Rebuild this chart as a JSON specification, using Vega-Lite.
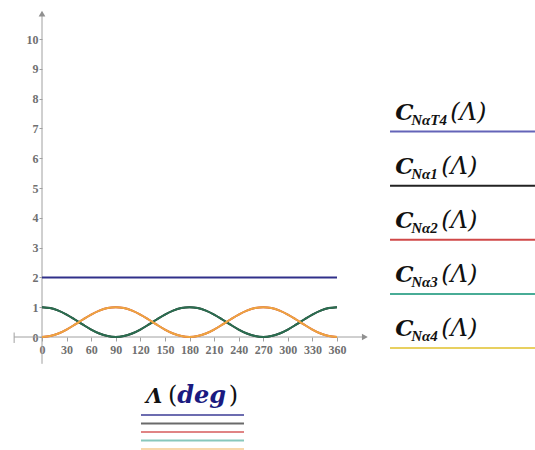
{
  "$schema": "https://vega.github.io/schema/vega-lite/v6.json",
  "width": 295,
  "height": 298,
  "autosize": {"type": "none"},
  "padding": {"left": 42, "top": 39, "right": 198, "bottom": 113},
  "background": "white",
  "config": {
    "view": {"stroke": null},
    "axis": {"labelFont": "Liberation Serif", "labelFontSize": 12, "labelFontWeight": "bold", "labelColor": "#707070", "tickColor": "#a0a0a0", "domain": false, "grid": false, "labelOverlap": false, "labelFlush": false, "title": null}
  },
  "datasets": {
    "one": [{}],
    "curve": [
      {"L": 0, "c": 1, "s": 0},
      {"L": 10, "c": 0.9698, "s": 0.0302},
      {"L": 20, "c": 0.883, "s": 0.117},
      {"L": 30, "c": 0.75, "s": 0.25},
      {"L": 40, "c": 0.5868, "s": 0.4132},
      {"L": 50, "c": 0.4132, "s": 0.5868},
      {"L": 60, "c": 0.25, "s": 0.75},
      {"L": 70, "c": 0.117, "s": 0.883},
      {"L": 80, "c": 0.0302, "s": 0.9698},
      {"L": 90, "c": 0, "s": 1},
      {"L": 100, "c": 0.0302, "s": 0.9698},
      {"L": 110, "c": 0.117, "s": 0.883},
      {"L": 120, "c": 0.25, "s": 0.75},
      {"L": 130, "c": 0.4132, "s": 0.5868},
      {"L": 140, "c": 0.5868, "s": 0.4132},
      {"L": 150, "c": 0.75, "s": 0.25},
      {"L": 160, "c": 0.883, "s": 0.117},
      {"L": 170, "c": 0.9698, "s": 0.0302},
      {"L": 180, "c": 1, "s": 0},
      {"L": 190, "c": 0.9698, "s": 0.0302},
      {"L": 200, "c": 0.883, "s": 0.117},
      {"L": 210, "c": 0.75, "s": 0.25},
      {"L": 220, "c": 0.5868, "s": 0.4132},
      {"L": 230, "c": 0.4132, "s": 0.5868},
      {"L": 240, "c": 0.25, "s": 0.75},
      {"L": 250, "c": 0.117, "s": 0.883},
      {"L": 260, "c": 0.0302, "s": 0.9698},
      {"L": 270, "c": 0, "s": 1},
      {"L": 280, "c": 0.0302, "s": 0.9698},
      {"L": 290, "c": 0.117, "s": 0.883},
      {"L": 300, "c": 0.25, "s": 0.75},
      {"L": 310, "c": 0.4132, "s": 0.5868},
      {"L": 320, "c": 0.5868, "s": 0.4132},
      {"L": 330, "c": 0.75, "s": 0.25},
      {"L": 340, "c": 0.883, "s": 0.117},
      {"L": 350, "c": 0.9698, "s": 0.0302},
      {"L": 360, "c": 1, "s": 0}
    ],
    "leg": [
      {"k": 0, "sub": "NαT4"},
      {"k": 1, "sub": "Nα1"},
      {"k": 2, "sub": "Nα2"},
      {"k": 3, "sub": "Nα3"},
      {"k": 4, "sub": "Nα4"}
    ]
  },
  "layer": [
    {
      "data": {"name": "one"},
      "mark": {"type": "rule", "color": "#a0a0a0", "strokeWidth": 1},
      "encoding": {
        "x": {
          "datum": -34, "type": "quantitative",
          "scale": {"domain": [0, 360], "nice": false, "zero": false},
          "axis": {
            "values": [0, 30, 60, 90, 120, 150, 180, 210, 240, 270, 300, 330, 360],
            "domain": false, "grid": false, "title": null,
            "tickColor": "#a0a0a0", "tickSize": 4,
            "labelFont": "Liberation Serif", "labelFontSize": 12, "labelFontWeight": "bold",
            "labelColor": "#707070", "labelPadding": 3, "labelFlush": false, "labelOverlap": false
          }
        },
        "x2": {"datum": 393},
        "y": {
          "datum": 0, "type": "quantitative",
          "scale": {"domain": [0, 10], "nice": false, "zero": false},
          "axis": {
            "values": [0, 1, 2, 3, 4, 5, 6, 7, 8, 9, 10],
            "domain": false, "grid": false, "title": null,
            "tickColor": "#a0a0a0", "tickSize": 3,
            "labelFont": "Liberation Serif", "labelFontSize": 12, "labelFontWeight": "bold",
            "labelColor": "#707070", "labelPadding": 1, "labelFlush": false, "labelOverlap": false
          }
        }
      }
    },
    {
      "data": {"name": "one"},
      "mark": {"type": "rule", "color": "#a0a0a0", "strokeWidth": 1},
      "encoding": {
        "x": {"datum": -34, "type": "quantitative", "scale": {"domain": [0, 360], "nice": false, "zero": false}, "axis": null},
        "y": {"datum": -0.2, "type": "quantitative", "scale": {"domain": [0, 10], "nice": false, "zero": false}, "axis": null},
        "y2": {"datum": 0.15}
      }
    },
    {
      "data": {"name": "one"},
      "mark": {"type": "rule", "color": "#a0a0a0", "strokeWidth": 1},
      "encoding": {
        "x": {"datum": 0, "type": "quantitative", "scale": {"domain": [0, 360], "nice": false, "zero": false}, "axis": null},
        "y": {"datum": -0.9, "type": "quantitative", "scale": {"domain": [0, 10], "nice": false, "zero": false}, "axis": null},
        "y2": {"datum": 10.8}
      }
    },
    {
      "data": {"name": "one"},
      "mark": {"type": "point", "shape": "triangle-right", "filled": true, "color": "#909090", "size": 45, "opacity": 1},
      "encoding": {
        "x": {"datum": 394, "type": "quantitative", "scale": {"domain": [0, 360], "nice": false, "zero": false}, "axis": null},
        "y": {"datum": 0, "type": "quantitative", "scale": {"domain": [0, 10], "nice": false, "zero": false}, "axis": null}
      }
    },
    {
      "data": {"name": "one"},
      "mark": {"type": "point", "shape": "triangle-up", "filled": true, "color": "#909090", "size": 45, "opacity": 1},
      "encoding": {
        "x": {"datum": 0, "type": "quantitative", "scale": {"domain": [0, 360], "nice": false, "zero": false}, "axis": null},
        "y": {"datum": 10.85, "type": "quantitative", "scale": {"domain": [0, 10], "nice": false, "zero": false}, "axis": null}
      }
    },
    {
      "data": {"name": "curve"},
      "mark": {"type": "line", "color": "#222222", "strokeWidth": 2, "interpolate": "monotone"},
      "encoding": {
        "x": {"field": "L", "type": "quantitative", "scale": {"domain": [0, 360], "nice": false, "zero": false}, "axis": null},
        "y": {"field": "c", "type": "quantitative", "scale": {"domain": [0, 10], "nice": false, "zero": false}, "axis": null}
      }
    },
    {
      "data": {"name": "curve"},
      "mark": {"type": "line", "color": "#cc3333", "strokeWidth": 2, "interpolate": "monotone"},
      "encoding": {
        "x": {"field": "L", "type": "quantitative", "scale": {"domain": [0, 360], "nice": false, "zero": false}, "axis": null},
        "y": {"field": "s", "type": "quantitative", "scale": {"domain": [0, 10], "nice": false, "zero": false}, "axis": null}
      }
    },
    {
      "data": {"name": "curve"},
      "mark": {"type": "line", "color": "#2a6e50", "strokeWidth": 2, "interpolate": "monotone"},
      "encoding": {
        "x": {"field": "L", "type": "quantitative", "scale": {"domain": [0, 360], "nice": false, "zero": false}, "axis": null},
        "y": {"field": "c", "type": "quantitative", "scale": {"domain": [0, 10], "nice": false, "zero": false}, "axis": null}
      }
    },
    {
      "data": {"name": "curve"},
      "mark": {"type": "line", "color": "#eea540", "strokeWidth": 2, "interpolate": "monotone"},
      "encoding": {
        "x": {"field": "L", "type": "quantitative", "scale": {"domain": [0, 360], "nice": false, "zero": false}, "axis": null},
        "y": {"field": "s", "type": "quantitative", "scale": {"domain": [0, 10], "nice": false, "zero": false}, "axis": null}
      }
    },
    {
      "data": {"name": "curve"},
      "mark": {"type": "line", "color": "#30308a", "strokeWidth": 2},
      "encoding": {
        "x": {"field": "L", "type": "quantitative", "scale": {"domain": [0, 360], "nice": false, "zero": false}, "axis": null},
        "y": {"datum": 2, "type": "quantitative", "scale": {"domain": [0, 10], "nice": false, "zero": false}, "axis": null}
      }
    },
    {
      "data": {"name": "leg"},
      "mark": {"type": "rule", "strokeWidth": 2},
      "encoding": {
        "x": {"datum": 424.7, "type": "quantitative", "scale": {"domain": [0, 360], "nice": false, "zero": false}, "axis": null},
        "x2": {"datum": 601.6},
        "y": {"field": "k", "type": "quantitative", "scale": {"domain": [0, 4], "range": [92.5, 309]}, "axis": null},
        "color": {"field": "sub", "type": "nominal", "legend": null,
          "scale": {"domain": ["NαT4", "Nα1", "Nα2", "Nα3", "Nα4"], "range": ["#6464b8", "#222222", "#d04848", "#48ac96", "#e8d060"]}}
      }
    },
    {
      "data": {"name": "leg"},
      "mark": {"type": "text", "text": "C", "align": "left", "baseline": "alphabetic", "dy": -12, "font": "DejaVu Serif", "fontStyle": "italic", "fontWeight": "bold", "fontSize": 23, "color": "#111111"},
      "encoding": {
        "x": {"datum": 431, "type": "quantitative", "scale": {"domain": [0, 360], "nice": false, "zero": false}, "axis": null},
        "y": {"field": "k", "type": "quantitative", "scale": {"domain": [0, 4], "range": [92.5, 309]}, "axis": null}
      }
    },
    {
      "data": {"name": "leg"},
      "mark": {"type": "text", "align": "left", "baseline": "alphabetic", "dx": 16, "dy": -7, "font": "Liberation Serif", "fontStyle": "italic", "fontWeight": "bold", "fontSize": 15, "color": "#111111"},
      "encoding": {
        "x": {"datum": 431, "type": "quantitative", "scale": {"domain": [0, 360], "nice": false, "zero": false}, "axis": null},
        "y": {"field": "k", "type": "quantitative", "scale": {"domain": [0, 4], "range": [92.5, 309]}, "axis": null},
        "text": {"field": "sub"}
      }
    },
    {
      "data": {"name": "leg"},
      "transform": [{"filter": "datum.k == 0"}],
      "mark": {"type": "text", "text": "(Λ)", "align": "left", "baseline": "alphabetic", "dx": 55, "dy": -12, "font": "DejaVu Serif", "fontStyle": "italic", "fontSize": 24, "color": "#111111"},
      "encoding": {
        "x": {"datum": 431, "type": "quantitative", "scale": {"domain": [0, 360], "nice": false, "zero": false}, "axis": null},
        "y": {"field": "k", "type": "quantitative", "scale": {"domain": [0, 4], "range": [92.5, 309]}, "axis": null}
      }
    },
    {
      "data": {"name": "leg"},
      "transform": [{"filter": "datum.k > 0"}],
      "mark": {"type": "text", "text": "(Λ)", "align": "left", "baseline": "alphabetic", "dx": 46, "dy": -12, "font": "DejaVu Serif", "fontStyle": "italic", "fontSize": 24, "color": "#111111"},
      "encoding": {
        "x": {"datum": 431, "type": "quantitative", "scale": {"domain": [0, 360], "nice": false, "zero": false}, "axis": null},
        "y": {"field": "k", "type": "quantitative", "scale": {"domain": [0, 4], "range": [92.5, 309]}, "axis": null}
      }
    },
    {
      "data": {"name": "leg"},
      "mark": {"type": "rule", "strokeWidth": 2},
      "encoding": {
        "x": {"datum": 120.8, "type": "quantitative", "scale": {"domain": [0, 360], "nice": false, "zero": false}, "axis": null},
        "x2": {"datum": 246.5},
        "y": {"field": "k", "type": "quantitative", "scale": {"domain": [0, 4], "range": [376, 410]}, "axis": null},
        "color": {"field": "sub", "type": "nominal", "legend": null,
          "scale": {"domain": ["NαT4", "Nα1", "Nα2", "Nα3", "Nα4"], "range": ["#6c6cb0", "#6a6a6a", "#e08484", "#88c8bc", "#f8d8ac"]}}
      }
    },
    {
      "data": {"name": "one"},
      "mark": {"type": "text", "text": "Λ", "align": "left", "baseline": "alphabetic", "dy": -12, "font": "DejaVu Serif", "fontStyle": "italic", "fontWeight": "bold", "fontSize": 21, "color": "#111111"},
      "encoding": {
        "x": {"datum": 126.9, "type": "quantitative", "scale": {"domain": [0, 360], "nice": false, "zero": false}, "axis": null},
        "y": {"datum": 0, "type": "quantitative", "scale": {"domain": [0, 4], "range": [376, 410]}, "axis": null}
      }
    },
    {
      "data": {"name": "one"},
      "mark": {"type": "text", "text": "(", "align": "left", "baseline": "alphabetic", "dy": -12, "font": "DejaVu Serif", "fontSize": 24, "color": "#111111"},
      "encoding": {
        "x": {"datum": 153.8, "type": "quantitative", "scale": {"domain": [0, 360], "nice": false, "zero": false}, "axis": null},
        "y": {"datum": 0, "type": "quantitative", "scale": {"domain": [0, 4], "range": [376, 410]}, "axis": null}
      }
    },
    {
      "data": {"name": "one"},
      "mark": {"type": "text", "text": "deg", "align": "left", "baseline": "alphabetic", "dy": -12, "font": "DejaVu Serif", "fontStyle": "italic", "fontWeight": "bold", "fontSize": 24, "color": "#1a1a80"},
      "encoding": {
        "x": {"datum": 165, "type": "quantitative", "scale": {"domain": [0, 360], "nice": false, "zero": false}, "axis": null},
        "y": {"datum": 0, "type": "quantitative", "scale": {"domain": [0, 4], "range": [376, 410]}, "axis": null}
      }
    },
    {
      "data": {"name": "one"},
      "mark": {"type": "text", "text": ")", "align": "left", "baseline": "alphabetic", "dy": -12, "font": "DejaVu Serif", "fontSize": 24, "color": "#111111"},
      "encoding": {
        "x": {"datum": 228, "type": "quantitative", "scale": {"domain": [0, 360], "nice": false, "zero": false}, "axis": null},
        "y": {"datum": 0, "type": "quantitative", "scale": {"domain": [0, 4], "range": [376, 410]}, "axis": null}
      }
    }
  ],
  "resolve": {"scale": {"x": "independent", "y": "independent", "color": "independent"}}
}
